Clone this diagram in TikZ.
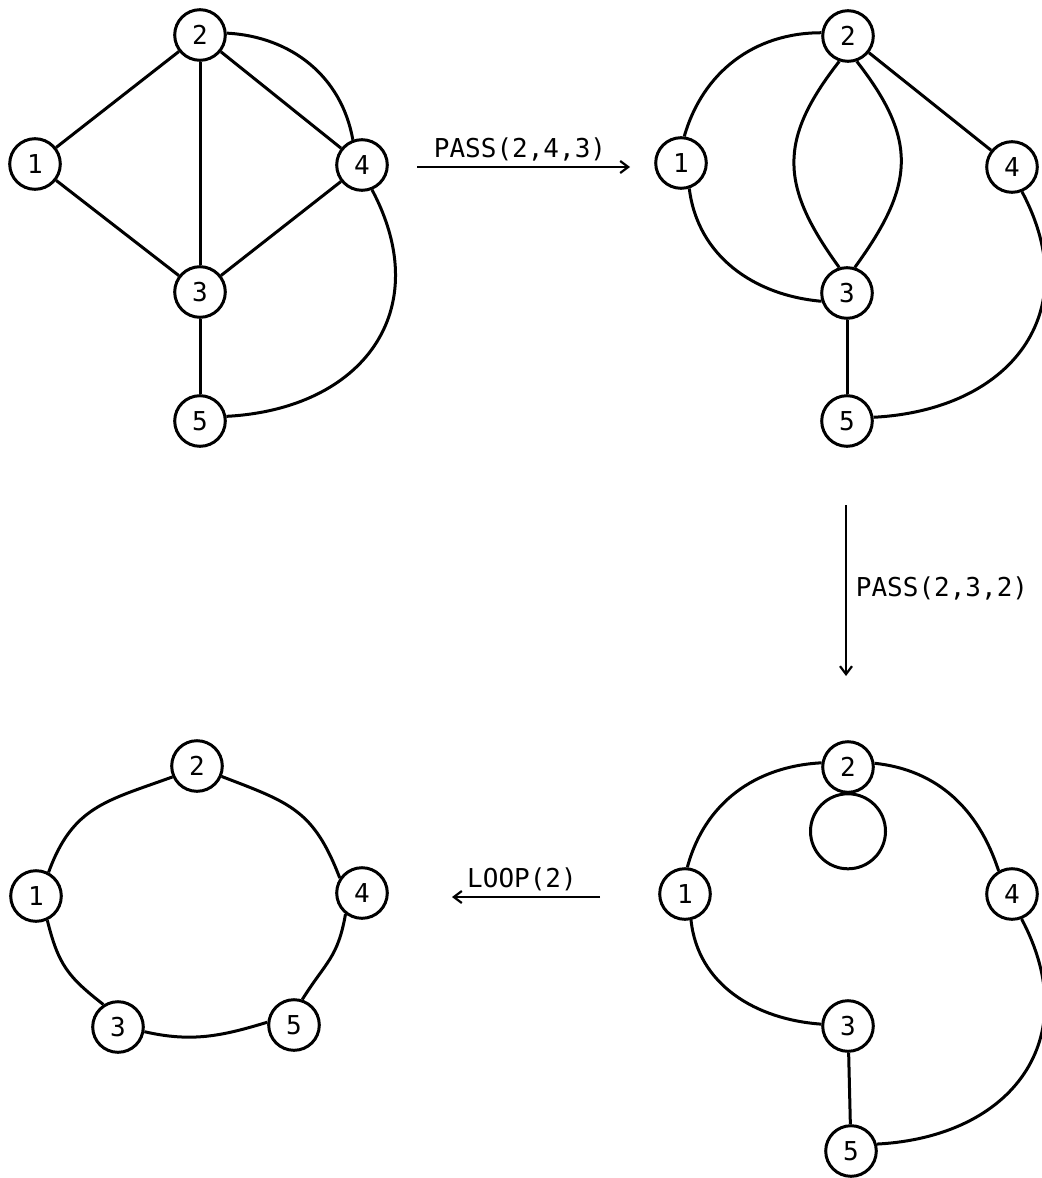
\documentclass[tikz,border=0pt]{standalone}
\usepackage{fontspec}
\setmonofont{DejaVu Sans Mono}
\usetikzlibrary{arrows.meta, calc}
\tikzstyle{vertex} = [draw, circle, line width=1.5pt, minimum size=25.3pt, inner sep=0pt, font=\ttfamily\fontsize{13}{14}\selectfont]
\tikzstyle{edge} = [draw, line width=1.5pt]
\tikzstyle{move} = [draw, line width=1.1pt, -{Straight Barb[length=4pt, width=6pt]}]
\tikzstyle{lbl} = [inner sep=0pt, font=\ttfamily\fontsize{13}{14}\selectfont]

\begin{document}
\begin{tikzpicture}[x=0.5pt, y=0.5pt]
	\useasboundingbox (0,0) rectangle (1042,-1178);

	% starting graph
	\node [vertex] (a1) at (35,-164) {1};
	\node [vertex] (a2) at (200,-35) {2};
	\node [vertex] (a3) at (200,-292) {3};
	\node [vertex] (a4) at (362,-165) {4};
	\node [vertex] (a5) at (200,-421) {5};

	\path [edge] (a1) -- (a2);
	\path [edge] (a1) -- (a3);
	\path [edge] (a2) -- (a3);
	\path [edge] (a2) -- (a4);
	\path [edge] (a3) -- (a4);
	\path [edge] (a3) -- (a5);
	\path [edge] (a2.4) to[out=-3, in=100] (a4.110);
	\path [edge] (a4.-68) to[out=-62, in=3, looseness=1.3] (a5.10);

	% after PASS(2,4,3)
	\node [vertex] (b1) at (681,-163) {1};
	\node [vertex] (b2) at (848,-36) {2};
	\node [vertex] (b3) at (847,-293) {3};
	\node [vertex] (b4) at (1012,-167) {4};
	\node [vertex] (b5) at (847,-421) {5};

	\path [edge] (b1.83) to[out=74, in=180] (b2.173);
	\path [edge] (b1.-72) to[out=-83, in=175] (b3.198);
	\path [edge] (b2.-109) to[out=-128, in=126, looseness=1.25] (b3.107);
	\path [edge] (b2.-71) to[out=-52, in=54, looseness=1.25] (b3.73);
	\path [edge] (b2) -- (b4);
	\path [edge] (b3) -- (b5);
	\path [edge] (b4.-68) to[out=-62, in=3, looseness=1.3] (b5.8);

	% after PASS(2,3,2)
	\node [vertex] (c1) at (685,-894) {1};
	\node [vertex] (c2) at (848,-767) {2};
	\node [vertex] (c3) at (848,-1026) {3};
	\node [vertex] (c4) at (1012,-894) {4};
	\node [vertex] (c5) at (851,-1151) {5};

	\path [edge] (c1.85) to[out=75, in=183] (c2.171);
	\path [edge] (c1.-77) to[out=-84, in=176] (c3.176);
	\path [edge] (c2.8) to[out=-6, in=108] (c4.120);
	\path [edge] (c2.south) ++(0,-37.5) circle[radius=37.5];
	\path [edge] (c3) -- (c5);
	\path [edge] (c4.-69) to[out=-62, in=3, looseness=1.3] (c5.15);

	% after LOOP(2)
	\node [vertex] (d1) at (36,-896) {1};
	\node [vertex] (d2) at (197,-766) {2};
	\node [vertex] (d3) at (118,-1027) {3};
	\node [vertex] (d4) at (362,-893) {4};
	\node [vertex] (d5) at (294,-1025) {5};

	\path [edge] (d1.62) to[out=70, in=200, looseness=1.15] (d2.204);
	\path [edge] (d2.-23) to[out=-21, in=111, looseness=1.2] (d4.146);
	\path [edge] (d1.-65) to[out=-76, in=142, looseness=1.15] (d3.123);
	\path [edge] (d3.-10) to[out=-13, in=197] (d5.174);
	\path [edge] (d4.232) to[out=-100, in=58, looseness=1.2] (d5.72);

	% moves
	\coordinate (p1s) at (417,-167);
	\coordinate (p1e) at (630,-167);
	\coordinate (p2s) at (846,-505);
	\coordinate (p2e) at (846,-676);
	\coordinate (lps) at (600,-897);
	\coordinate (lpe) at (452,-897);

	\path [move] (p1s) -- (p1e);
	\path [move] (p2s) -- (p2e);
	\path [move] (lps) -- (lpe);

	\node [lbl] (pass1) at (520,-149) {PASS(2,4,3)};
	\node [lbl] (pass2) at (942,-588) {PASS(2,3,2)};
	\node [lbl] (loop) at (522,-879) {LOOP(2)};
\end{tikzpicture}
\end{document}
